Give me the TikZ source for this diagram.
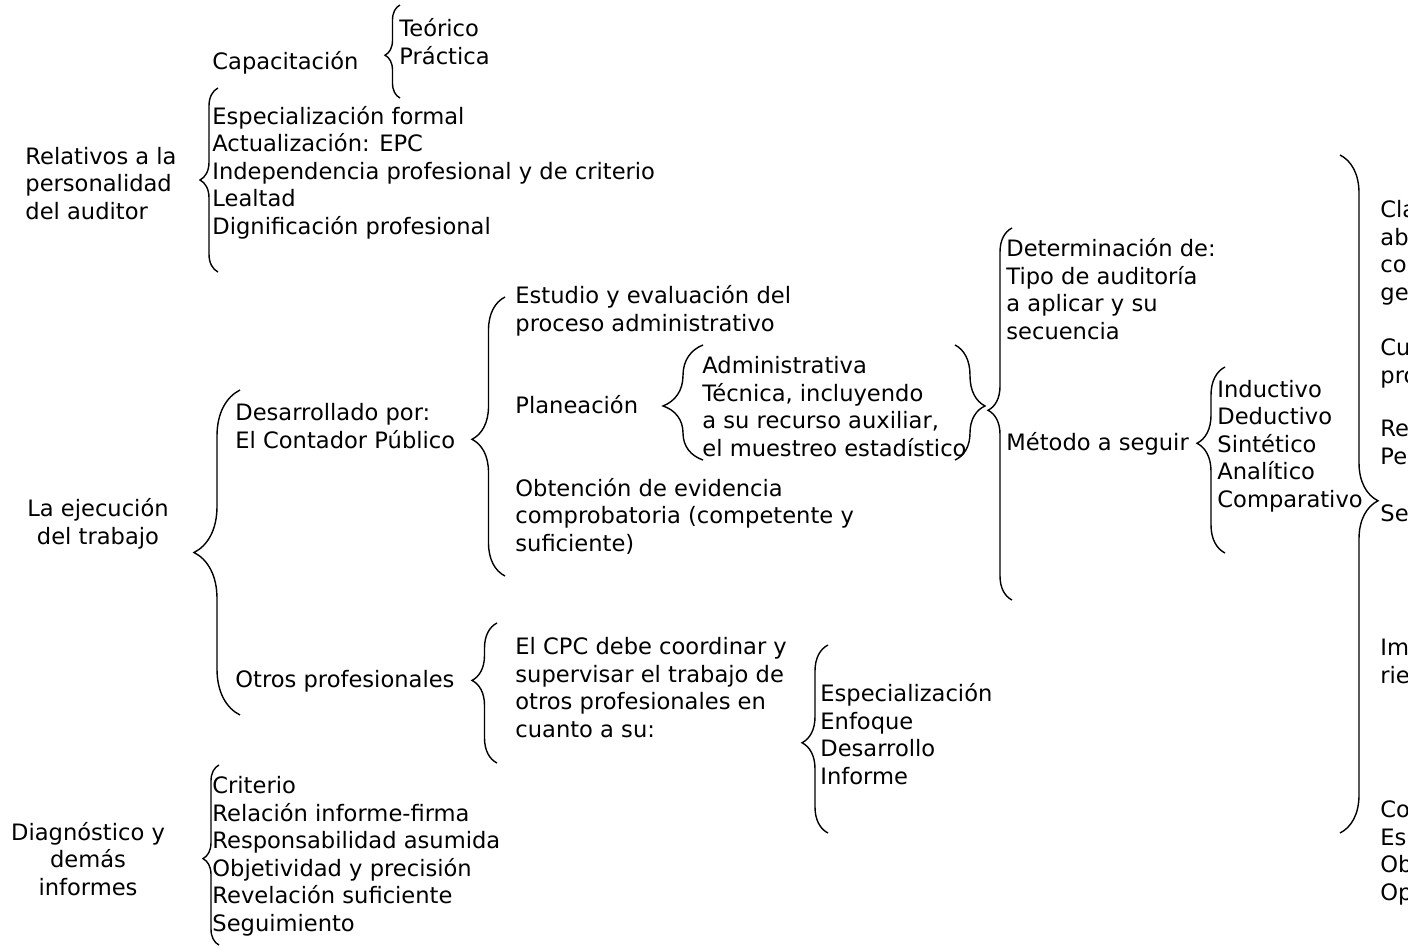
\documentclass[tikz,border=0pt]{standalone}
\usepackage{fontspec}
\setmainfont{DejaVu Sans}
\usetikzlibrary{decorations.pathreplacing}
\tikzset{
  tx/.style={anchor=base west,inner sep=0pt,align=left,font=\fontsize{11.3}{13.75}\selectfont},
  txc/.style={tx,align=center,anchor=base},
  br/.style={decorate,decoration={brace,amplitude=#1},line width=0.7pt}
}

\begin{document}
\begin{tikzpicture}[x=0.5pt,y=-0.5pt]
\clip (0,0) rectangle (1408,948);
% personalidad (base = ultima linea)
\node[tx] (cap) at (212,69) {Capacitación};
\node[tx] (teo) at (399,64) {Teórico\\Práctica};
\node[tx] (rel) at (25,219) {Relativos a la\\personalidad\\del auditor};
\node[tx] (esp) at (212,234) {Especialización formal\\Actualización: EPC\\Independencia profesional y de criterio\\Lealtad\\Dignificación profesional};
\draw[br=7.5pt,decoration={aspect=0.46}] (400,98) -- (400,5);
\draw[br=9pt,decoration={aspect=0.5}] (218,272) -- (218,88);
% ejecucion
\node[txc] (eje) at (98,544) {La ejecución\\del trabajo};
\node[tx] (des) at (235,448) {Desarrollado por:\\El Contador Público};
\node[tx] (otr) at (235,687) {Otros profesionales};
\node[tx] (est) at (515,331) {Estudio y evaluación del\\proceso administrativo};
\node[tx] (pla) at (515,413) {Planeación};
\node[tx] (adm) at (702,456) {Administrativa\\Técnica, incluyendo\\a su recurso auxiliar,\\el muestreo estadístico};
\node[tx] (obt) at (515,551) {Obtención de evidencia\\comprobatoria (competente y\\suficiente)};
\node[tx] (det) at (1006,339) {Determinación de:\\Tipo de auditoría\\a aplicar y su\\secuencia};
\node[tx] (met) at (1006,450) {Método a seguir};
\node[tx] (ind) at (1217,507) {Inductivo\\Deductivo\\Sintético\\Analítico\\Comparativo};
\node[tx] (cpc) at (515,737) {El CPC debe coordinar y\\supervisar el trabajo de\\otros profesionales en\\cuanto a su:};
\node[tx] (foc) at (820,784) {Especialización\\Enfoque\\Desarrollo\\Informe};
\draw[br=23pt,decoration={aspect=0.5}] (240,715) -- (240,390);
\draw[br=16.5pt,decoration={aspect=0.49}] (505,576) -- (505,297);
\draw[br=20pt,decoration={aspect=0.47}] (703,460) -- (703,345);
\draw[br=15pt,decoration={aspect=0.53}] (955,345) -- (955,460);
\draw[br=12pt,decoration={aspect=0.51}] (1012,600) -- (1012,228);
\draw[br=14pt,decoration={aspect=0.59}] (1225,553) -- (1225,367);
\draw[br=12.5pt,decoration={aspect=0.59}] (497,763) -- (497,623);
\draw[br=13pt,decoration={aspect=0.48}] (828,833) -- (828,645);
% columna derecha
\draw[br=19pt,decoration={aspect=0.51}] (1340,155) -- (1340,833);
\node[tx] (r1) at (1380,300) {Cla\\ab\\co\\ge};
\node[tx] (r2) at (1380,383) {Cu\\pro};
\node[tx] (r3) at (1380,464) {Re\\Pe};
\node[tx] (r4) at (1380,521) {Se};
\node[tx] (r5) at (1380,683) {Im\\rie};
\node[tx] (r6) at (1380,900) {Co\\Es\\Ob\\Op};
% informes
\node[txc] (dia) at (88,895) {Diagnóstico y\\demás\\informes};
\node[tx] (cri) at (212,931) {Criterio\\Relación informe-firma\\Responsabilidad asumida\\Objetividad y precisión\\Revelación suficiente\\Seguimiento};
\draw[br=8pt,decoration={aspect=0.48}] (219,945) -- (219,765);
\end{tikzpicture}
\end{document}
